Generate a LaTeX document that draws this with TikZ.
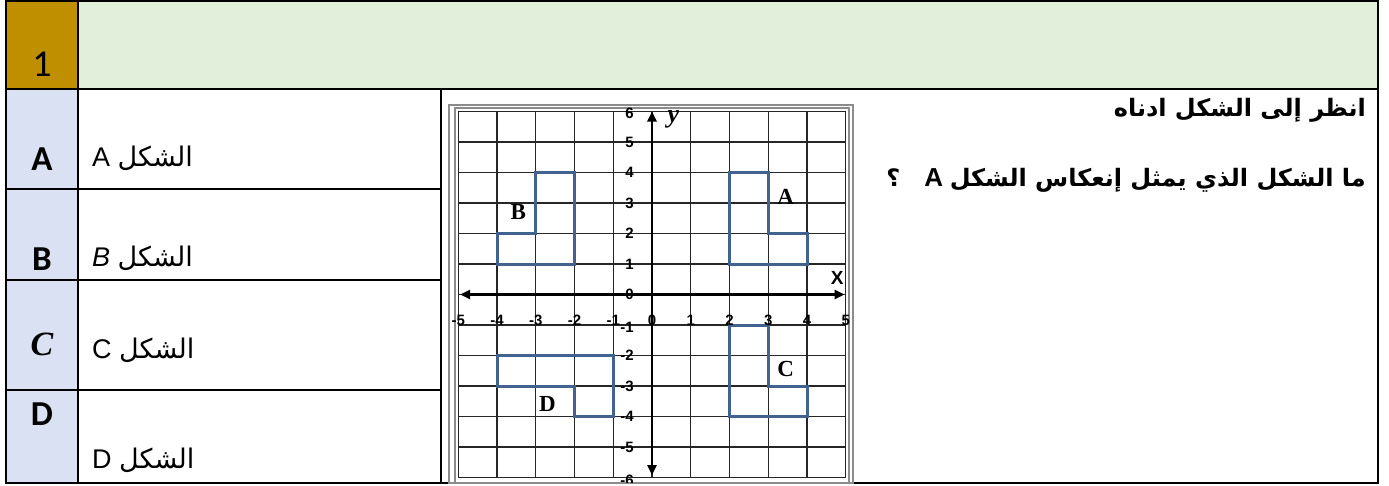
\documentclass[tikz,border=0pt]{standalone}
\usepackage{fontspec}
\setmainfont{Liberation Sans}
\newfontfamily\arabicfont[Script=Arabic]{DejaVu Sans}
\newfontfamily\calfont{Carlito}
\newfontfamily\timesfont{Liberation Serif}
\TeXXeTstate=1
\usetikzlibrary{arrows.meta}
\definecolor{numgold}{RGB}{191,143,0}
\definecolor{headgreen}{RGB}{226,239,218}
\definecolor{optblue}{RGB}{217,225,242}
\definecolor{figblue}{RGB}{66,99,143}

\begin{document}
\begin{tikzpicture}[x=1pt,y=-1pt]
	\tikzset{rule/.style={draw=black, line width=2pt}}
	\tikzset{optlbl/.style={anchor=base, inner sep=0pt, font=\calfont\bfseries\fontsize{35}{40}\selectfont}}
	\tikzset{opttxt/.style={anchor=base west, inner sep=0pt, font=\fontsize{27}{32}\selectfont}}
	\tikzset{qtxt/.style={anchor=base east, inner sep=0pt, font=\bfseries\fontsize{24}{29}\selectfont}}
	\tikzset{frame/.style={draw=black!45, line width=1.2pt}}
	\tikzset{gridline/.style={draw=black!85, line width=1.3pt}}
	\tikzset{axis/.style={{Triangle[length=10pt,width=9pt]}-{Triangle[length=10pt,width=9pt]}, line width=2.5pt}}
	\tikzset{figure/.style={draw=figblue, line width=3pt}}
	\tikzset{ticklbl/.style={inner sep=0pt, font=\bfseries\fontsize{15}{17}\selectfont}}
	\tikzset{figlbl/.style={inner sep=0pt, font=\timesfont\bfseries\fontsize{23}{26}\selectfont}}
	
	\useasboundingbox (0,0) rectangle (1389,485);
	
	% table
	\fill[numgold] (6,1) rectangle (78,89);
	\fill[headgreen] (78,1) rectangle (1378,89);
	\fill[optblue] (6,89) rectangle (78,483);
	\draw[rule] (6,1) rectangle (1378,483);
	\draw[rule] (78,1) -- (78,483);
	\draw[rule] (6,89) -- (1378,89);
	\draw[rule] (441,89) -- (441,483);
	\draw[rule] (6,189) -- (441,189);
	\draw[rule] (6,280) -- (441,280);
	\draw[rule] (6,390) -- (441,390);
	
	\node(num) at (42,76) [anchor=base, inner sep=0pt, font=\calfont\fontsize{38}{44}\selectfont] {1};
	
	\node(lblA) at (42,170) [optlbl] {A};
	\node(lblB) at (42,270) [optlbl] {B};
	\node(lblC) at (42,355) [optlbl, font=\timesfont\bfseries\itshape\fontsize{34}{40}\selectfont] {C};
	\node(lblD) at (42,425) [optlbl] {D};
	
	\node(optA) at (92,166) [opttxt] {\beginR{\arabicfont الشكل} A\endR};
	\node(optB) at (92,266) [opttxt] {\beginR{\arabicfont الشكل} \textit{B}\endR};
	\node(optC) at (92,358) [opttxt] {\beginR{\arabicfont الشكل} C\endR};
	\node(optD) at (92,468) [opttxt] {\beginR{\arabicfont الشكل} D\endR};
	
	\node(q1) at (1366,116) [qtxt] {\arabicfont\beginR انظر إلى الشكل ادناه\endR};
	\node(q2) at (1366,186) [qtxt] {\beginR{\arabicfont ما الشكل الذي يمثل إنعكاس الشكل} {\fontsize{26}{30}\selectfont A}\quad{\arabicfont ؟}\endR};
	
	% picture frame
	\draw[frame] (449,105) rectangle (853,483);
	\draw[frame] (455,108) rectangle (849,483);
	
	\begin{scope}[shift={(652,294.5)}, x=38.75pt, y=30.5pt]
		\clip (-5.24,-6.18) rectangle (5.19,6.21);
		\draw[gridline, step=1] (-5,-6) grid (5,6);
		
		\draw[figure] (2,1) -- (4,1) -- (4,2) -- (3,2) -- (3,4) -- (2,4) -- cycle;
		\draw[figure] (-4,1) -- (-2,1) -- (-2,4) -- (-3,4) -- (-3,2) -- (-4,2) -- cycle;
		\draw[figure] (2,-1) -- (3,-1) -- (3,-3) -- (4,-3) -- (4,-4) -- (2,-4) -- cycle;
		\draw[figure] (-4,-2) -- (-1,-2) -- (-1,-4) -- (-2,-4) -- (-2,-3) -- (-4,-3) -- cycle;
		
		\coordinate(xneg) at (-4.95,0);
		\coordinate(xpos) at (4.97,0);
		\coordinate(yneg) at (0,-5.92);
		\coordinate(ypos) at (0,6);
		\draw[axis] (xneg) -- (xpos);
		\draw[axis] (yneg) -- (ypos);
		
		\node(figA) at (3.45,3.2) [figlbl] {A};
		\node(figB) at (-3.45,2.7) [figlbl] {B};
		\node(figC) at (3.45,-2.45) [figlbl] {C};
		\node(figD) at (-2.7,-3.6) [figlbl] {D};
		
		\node(xlab) at (4.78,0.53) [inner sep=0pt, font=\bfseries\fontsize{19}{21}\selectfont] {X};
		\node(ylab) at (0.55,5.75) [inner sep=0pt, font=\timesfont\bfseries\itshape\fontsize{26}{28}\selectfont] {y};
		
		\node(xm5) at (-5,-0.85) [ticklbl] {-5};
		\node(xm4) at (-4,-0.85) [ticklbl] {-4};
		\node(xm3) at (-3,-0.85) [ticklbl] {-3};
		\node(xm2) at (-2,-0.85) [ticklbl] {-2};
		\node(xm1) at (-1,-0.85) [ticklbl] {-1};
		\node(x0) at (0,-0.85) [ticklbl] {0};
		\node(x1) at (1,-0.85) [ticklbl] {1};
		\node(x2) at (2,-0.85) [ticklbl] {2};
		\node(x3) at (3,-0.85) [ticklbl] {3};
		\node(x4) at (4,-0.85) [ticklbl] {4};
		\node(x5) at (5,-0.85) [ticklbl] {5};
		
		\node(y6) at (-0.47,5.95) [ticklbl, anchor=east] {6};
		\node(y5) at (-0.47,5) [ticklbl, anchor=east] {5};
		\node(y4) at (-0.47,4) [ticklbl, anchor=east] {4};
		\node(y3) at (-0.47,3) [ticklbl, anchor=east] {3};
		\node(y2) at (-0.47,2) [ticklbl, anchor=east] {2};
		\node(y1) at (-0.47,1) [ticklbl, anchor=east] {1};
		\node(y0) at (-0.47,0) [ticklbl, anchor=east] {0};
		\node(ym1) at (-0.47,-1.07) [ticklbl, anchor=east] {-1};
		\node(ym2) at (-0.47,-2) [ticklbl, anchor=east] {-2};
		\node(ym3) at (-0.47,-3) [ticklbl, anchor=east] {-3};
		\node(ym4) at (-0.47,-4) [ticklbl, anchor=east] {-4};
		\node(ym5) at (-0.47,-5) [ticklbl, anchor=east] {-5};
		\node(ym6) at (-0.47,-6.1) [ticklbl, anchor=east] {-6};
	\end{scope}
	
\end{tikzpicture}
\end{document}
